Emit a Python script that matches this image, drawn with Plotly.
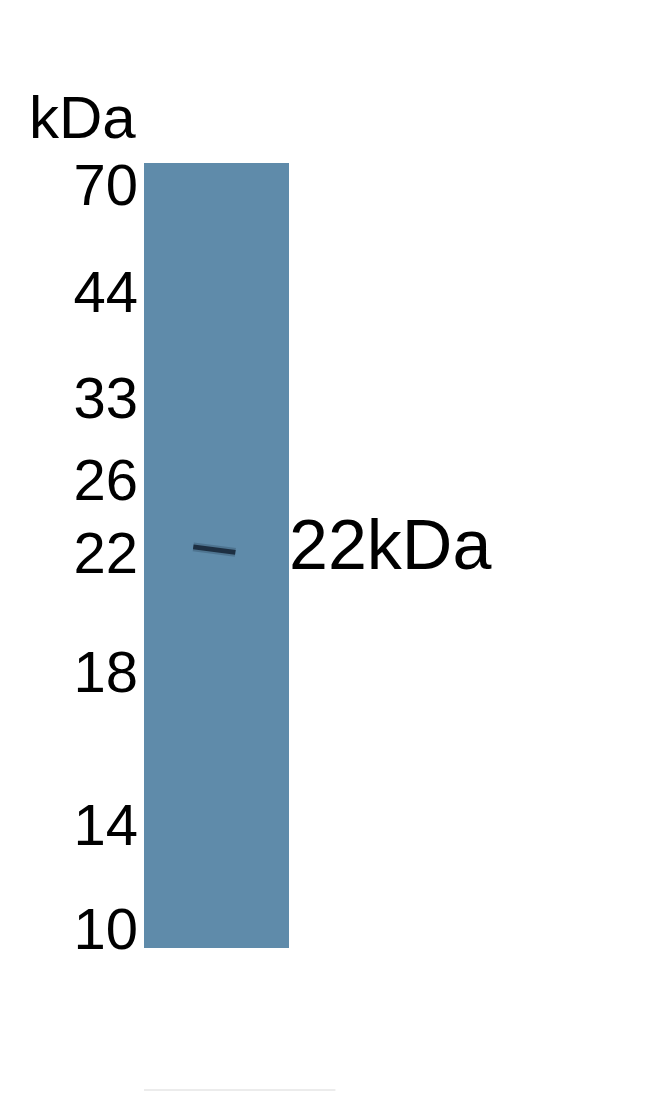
import plotly.graph_objects as go

# ---- data ----
marker_kda = ["70", "44", "33", "26", "22", "18", "14", "10"]
marker_migration = [2.8, 16.4, 29.9, 40.3, 49.6, 64.8, 84.3, 97.5]   # % of lane length from top
lanes = [1]
lane_length = [100]
band_lane = [1]
band_kda = ["22kDa"]
band_migration_left = [48.9]
band_migration_right = [49.6]

LANE_COLOR = "#5f8baa"
BAND_COLOR = "#1d2f42"
FONT = "Liberation Sans, Arial, sans-serif"

fig = go.Figure()

# lane
fig.add_trace(go.Bar(
    x=lanes, y=lane_length, base=0, width=1,
    marker=dict(color=LANE_COLOR, line=dict(width=0)),
    hoverinfo="skip", showlegend=False,
))

# band (soft halo + core)
for w, c in [(9, "rgba(29,47,66,0.25)"), (5, BAND_COLOR)]:
    for ln, yl, yr in zip(band_lane, band_migration_left, band_migration_right):
        fig.add_trace(go.Scatter(
            x=[ln - 0.16, ln + 0.13], y=[yl, yr],
            mode="lines", line=dict(color=c, width=w),
            hoverinfo="skip", showlegend=False,
        ))

# band size label
for ln, yl, yr, t in zip(band_lane, band_migration_left, band_migration_right, band_kda):
    fig.add_annotation(
        x=1.0, xref="paper", y=(yl + yr) / 2 - 0.6, yref="y",
        text=t, showarrow=False, xanchor="left", yanchor="middle",
        xshift=-2, font=dict(family=FONT, size=70, color="black"),
    )

# kDa unit label
fig.add_annotation(
    x=0, xref="paper", y=1.058, yref="paper",
    text="kDa", showarrow=False, xanchor="right", yanchor="middle",
    xshift=-6, font=dict(family=FONT, size=60, color="black"),
)

# faint line below
fig.add_shape(type="line", xref="paper", yref="paper",
              x0=0, x1=1.32, y0=-0.181, y1=-0.181,
              line=dict(color="#ececec", width=2))

fig.update_layout(
    width=650, height=1118,
    margin=dict(l=136, r=369, t=155, b=178),
    paper_bgcolor="white", plot_bgcolor="white",
    bargap=0,
    xaxis=dict(range=[0.5, 1.5], visible=False, fixedrange=True),
    yaxis=dict(
        range=[100, 0], showgrid=False, zeroline=False, showline=False,
        tickmode="array", tickvals=marker_migration, ticktext=marker_kda,
        ticks="", ticklabelstandoff=5,
        tickfont=dict(family=FONT, size=58, color="black"),
    ),
)

fig.write_html("out.html")
